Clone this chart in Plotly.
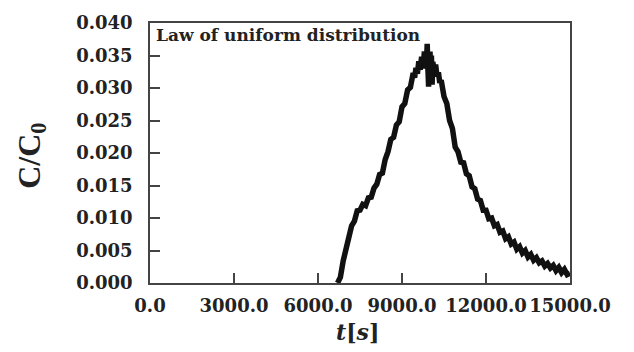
import plotly.graph_objects as go

t_s = [6700, 6800, 6900, 7000, 7100, 7200, 7300, 7400, 7500, 7600, 7700, 7800, 7900,
       8000, 8100, 8200, 8300, 8400, 8500, 8600, 8700, 8800, 8900, 9000, 9100, 9200,
       9300, 9400, 9450, 9500, 9550, 9600, 9650, 9700, 9750, 9800, 9825, 9850, 9875,
       9900, 9925, 9950, 9975, 10000, 10025, 10050, 10075, 10100, 10150, 10200, 10250,
       10300, 10350, 10400, 10500, 10600,
       10700, 10800, 10900, 11000, 11100, 11200, 11300, 11400, 11500, 11600, 11700,
       11800, 11900, 12000, 12100, 12200, 12300, 12400, 12500, 12600, 12700, 12800,
       12900, 13000, 13100, 13200, 13300, 13400, 13500, 13600, 13700, 13800, 13900,
       14000, 14100, 14200, 14300, 14400, 14500, 14600, 14700, 14800, 14900, 15000]
c_ratio = [0.0000, 0.0009, 0.0034, 0.0057, 0.0070, 0.0088, 0.0095, 0.0111, 0.0112, 0.0121,
           0.0119, 0.0131, 0.0132, 0.0146, 0.0152, 0.0167, 0.0169, 0.0190, 0.0202, 0.0221,
           0.0224, 0.0243, 0.0248, 0.0271, 0.0276, 0.0297, 0.0301, 0.0323, 0.0316, 0.0331,
           0.0322, 0.0341, 0.0328, 0.0348, 0.0330, 0.0356, 0.0334, 0.0352, 0.0338, 0.0368,
           0.0330, 0.0302, 0.0345, 0.0356, 0.0328, 0.0350, 0.0305, 0.0340, 0.0326, 0.0336,
           0.0318, 0.0324, 0.0308, 0.0312, 0.0287, 0.0276,
           0.0250, 0.0238, 0.0209, 0.0202, 0.0186, 0.0185, 0.0168, 0.0165, 0.0148, 0.0145,
           0.0129, 0.0127, 0.0112, 0.0112, 0.0099, 0.0100, 0.0088, 0.0090, 0.0078, 0.0080,
           0.0068, 0.0071, 0.0060, 0.0063, 0.0052, 0.0056, 0.0046, 0.0050, 0.0040, 0.0044,
           0.0035, 0.0039, 0.0031, 0.0034, 0.0026, 0.0030, 0.0023, 0.0027, 0.0019, 0.0024,
           0.0016, 0.0021, 0.0013, 0.0015]

x_ticks = [0, 3000, 6000, 9000, 12000, 15000]
y_ticks = [0.000, 0.005, 0.010, 0.015, 0.020, 0.025, 0.030, 0.035, 0.040]

title_text = "Law of uniform distribution"
x_title = "<i>t</i>[<i>s</i>]"
y_title = "C/C<sub>0</sub>"

FONT = "DejaVu Serif"
AX = "#444444"
TXT = "#222222"

fig = go.Figure()
fig.add_trace(go.Scatter(x=t_s, y=c_ratio, mode="lines",
                         line=dict(color="#111111", width=5.5), showlegend=False))

axis_common = dict(showline=True, mirror=True, linecolor=AX, linewidth=1.5,
                   ticks="inside", ticklen=10, tickwidth=1.5, tickcolor=AX,
                   showgrid=False, zeroline=False,
                   tickfont=dict(family=FONT, size=18, color=TXT, weight="bold"))

fig.update_xaxes(range=[0, 15000], tickvals=x_ticks, tickformat=".1f",
                 ticklabelstandoff=6, **axis_common)
fig.update_yaxes(range=[0, 0.040], tickvals=y_ticks, tickformat=".3f",
                 ticklabelstandoff=12, **axis_common)

fig.add_annotation(text=title_text, xref="paper", yref="paper", x=0, y=1,
                   xanchor="left", yanchor="top", xshift=4, yshift=0, showarrow=False,
                   font=dict(family=FONT, size=17, color=TXT, weight="bold"))
fig.add_annotation(text=x_title, xref="paper", yref="paper", x=0.495, y=-0.19,
                   xanchor="center", yanchor="middle", showarrow=False,
                   font=dict(family=FONT, size=22, color=TXT, weight="bold"))
fig.add_annotation(text=y_title, xref="paper", yref="paper", x=-0.283, y=0.49,
                   xanchor="center", yanchor="middle", textangle=-90, showarrow=False,
                   font=dict(family="Liberation Serif", size=32, color=TXT, weight="bold"))

fig.update_layout(width=634, height=352, margin=dict(l=150, r=64, t=16, b=69),
                  paper_bgcolor="white", plot_bgcolor="white")

fig.write_html("out.html")
